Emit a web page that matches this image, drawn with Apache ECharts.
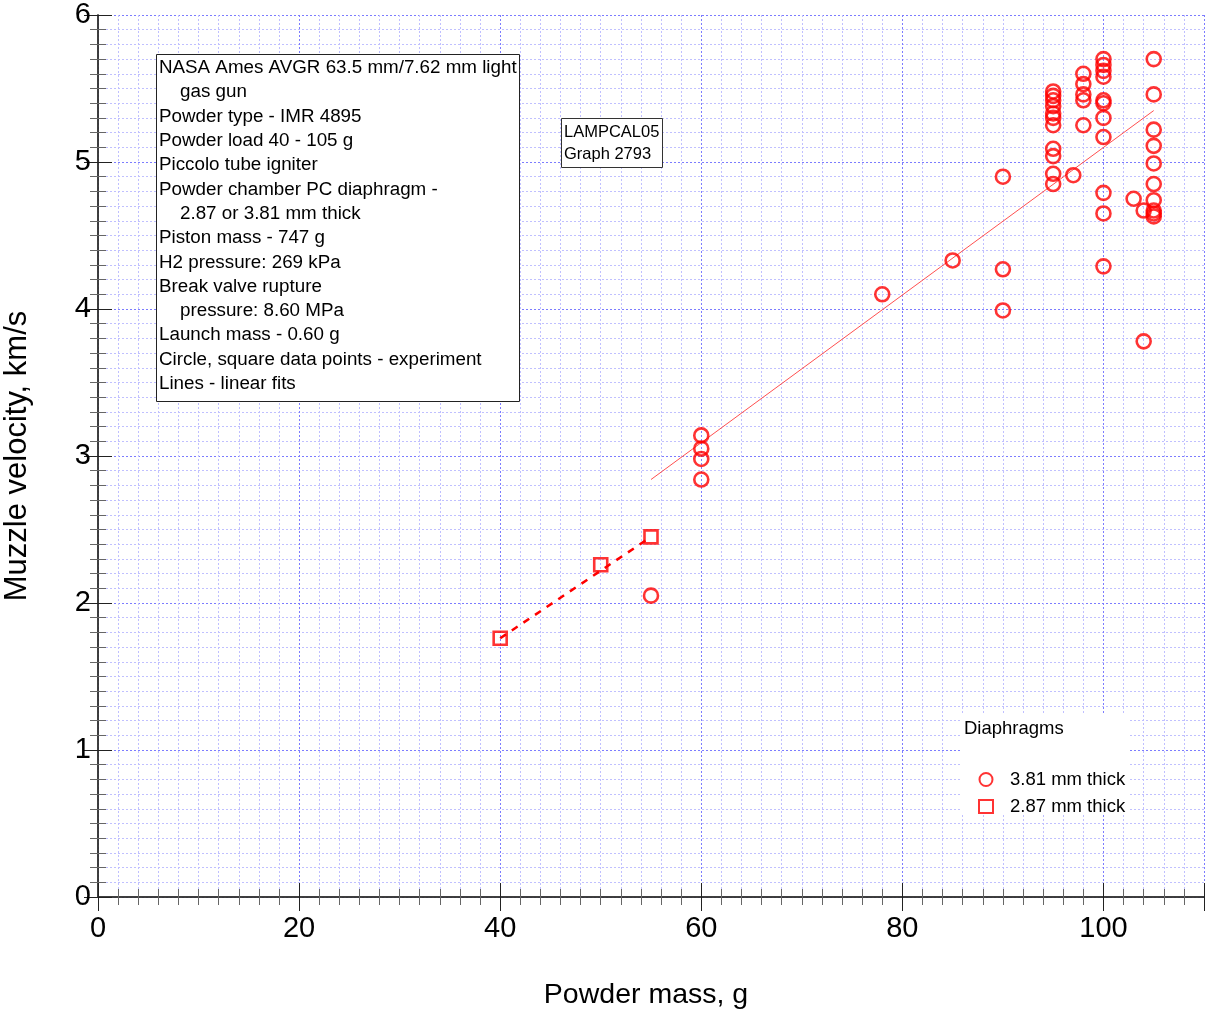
<!DOCTYPE html>
<html><head><meta charset="utf-8">
<script src="https://cdn.jsdelivr.net/npm/echarts@6/dist/echarts.min.js"></script>
<style>html,body{margin:0;padding:0;background:#fff}#c{width:1205px;height:1010px}</style>
</head><body><div id="c"></div>
<script>
// 3.81 mm diaphragm (circles)
const circleX = [55, 60, 60, 60, 60, 78, 85, 90, 90, 90,
  95, 95, 95, 95, 95, 95, 95, 95, 95, 95, 95,
  97, 98, 98, 98, 98, 98,
  100, 100, 100, 100, 100, 100, 100, 100, 100, 100, 100,
  103, 104, 104,
  105, 105, 105, 105, 105, 105, 105, 105, 105, 105];
const circleY = [2.05, 3.14, 3.05, 2.98, 2.84, 4.10, 4.33, 4.90, 4.27, 3.99,
  5.48, 5.45, 5.42, 5.38, 5.33, 5.30, 5.25, 5.09, 5.04, 4.92, 4.85,
  4.91, 5.60, 5.53, 5.46, 5.42, 5.25,
  5.70, 5.66, 5.62, 5.58, 5.42, 5.40, 5.30, 5.17, 4.79, 4.65, 4.29,
  4.75, 4.67, 3.78,
  5.70, 5.46, 5.22, 5.11, 4.99, 4.85, 4.74, 4.67, 4.65, 4.63];
// 2.87 mm diaphragm (squares)
const squareX = [40, 50, 55];
const squareY = [1.76, 2.26, 2.45];
// linear fits
const fitCircleX = [55, 105];
const fitCircleY = [2.84, 5.35];
const fitSquareX = [40, 55];
const fitSquareY = [1.76, 2.45];
const seriesNames = ['3.81 mm thick', '2.87 mm thick'];
const legendTitle = 'Diaphragms';
const xTitle = 'Powder mass, g';
const yTitle = 'Muzzle velocity, km/s';
const infoLines = [
  ['NASA Ames AVGR 63.5 mm/7.62 mm light', 0],
  ['gas gun', 1],
  ['Powder type - IMR 4895', 0],
  ['Powder load 40 - 105 g', 0],
  ['Piccolo tube igniter', 0],
  ['Powder chamber PC diaphragm -', 0],
  ['2.87 or 3.81 mm thick', 1],
  ['Piston mass - 747 g', 0],
  ['H2 pressure: 269 kPa', 0],
  ['Break valve rupture', 0],
  ['pressure: 8.60 MPa', 1],
  ['Launch mass - 0.60 g', 0],
  ['Circle, square data points - experiment', 0],
  ['Lines - linear fits', 0]
];
const graphLabel = ['LAMPCAL05', 'Graph 2793'];

const zip = (a, b) => a.map((v, i) => [v, b[i]]);
const FONT = '"Liberation Sans", Arial, sans-serif';
const RED = '#ff0000';

const chart = echarts.init(document.getElementById('c'));

const infoGraphics = [{
  type: 'rect', shape: {x: 156.5, y: 54.5, width: 363, height: 347},
  style: {fill: '#fff', stroke: '#222', lineWidth: 1}, z: 10
}];
infoLines.forEach((l, i) => {
  infoGraphics.push({
    type: 'text', x: 159 + l[1] * 21, y: 68 + i * 24.3, z: 11,
    style: {text: l[0], font: '18.8px ' + FONT, fill: '#000', textVerticalAlign: 'middle'}
  });
});

const boxGraphics = [
  {type: 'rect', shape: {x: 561.5, y: 118.5, width: 101, height: 49},
   style: {fill: '#fff', stroke: '#333', lineWidth: 1}, z: 10},
  {type: 'text', x: 564, y: 132, z: 11, style: {text: graphLabel[0], font: '16.5px ' + FONT, fill: '#000', textVerticalAlign: 'middle'}},
  {type: 'text', x: 564, y: 154, z: 11, style: {text: graphLabel[1], font: '16.5px ' + FONT, fill: '#000', textVerticalAlign: 'middle'}},
  {type: 'rect', shape: {x: 960, y: 715, width: 170, height: 100}, style: {fill: '#fff'}, z: 5},
  {type: 'text', x: 964, y: 729, z: 11, style: {text: legendTitle, font: '18.5px ' + FONT, fill: '#000', textVerticalAlign: 'middle'}}
];

const axisCommon = {
  type: 'value', min: 0,
  axisLine: {show: true, lineStyle: {color: '#333', width: 1.5}},
  axisTick: {show: true, inside: true, length: 14, lineStyle: {color: '#222'}},
  minorTick: {show: true, splitNumber: 10, length: 8, lineStyle: {color: '#666'}},
  splitLine: {show: true, lineStyle: {color: '#7c7cff', type: [2, 2], width: 1}},
  minorSplitLine: {show: true, lineStyle: {color: '#c0c0ff', type: [2, 2], width: 1}}
};

chart.setOption({
  animation: false,
  backgroundColor: '#fff',
  grid: {left: 98, right: 1, top: 15, bottom: 113, containLabel: false, outerBoundsMode: 'none'},
  xAxis: [
    Object.assign({}, axisCommon, {
      max: 110, interval: 20, position: 'bottom',
      axisLabel: {fontSize: 29, fontFamily: FONT, color: '#000', margin: 17, showMaxLabel: false},
      name: xTitle, nameLocation: 'middle', nameGap: 84,
      nameTextStyle: {fontSize: 28.5, fontFamily: FONT, color: '#000', padding: [0, 10, 0, 0]}
    }),
    Object.assign({}, axisCommon, {
      max: 110, interval: 20, position: 'top',
      axisLabel: {show: false}, splitLine: {show: false}, minorSplitLine: {show: false}
    })
  ],
  yAxis: [
    Object.assign({}, axisCommon, {
      max: 6, interval: 1, position: 'left',
      axisLabel: {fontSize: 29, fontFamily: FONT, color: '#000', margin: 7},
      name: yTitle, nameLocation: 'middle', nameGap: 65,
      nameTextStyle: {fontSize: 31, fontFamily: FONT, color: '#000'}
    }),
    Object.assign({}, axisCommon, {
      max: 6, interval: 1, position: 'right',
      axisLabel: {show: false}, splitLine: {show: false}, minorSplitLine: {show: false}
    })
  ],
  legend: {
    data: seriesNames, orient: 'vertical', left: 978, top: 770, itemGap: 8, padding: 0,
    itemWidth: 14, itemHeight: 13,
    textStyle: {fontSize: 18.5, fontFamily: FONT, color: '#000', padding: [0, 0, 0, 12]}, z: 12
  },
  graphic: infoGraphics.concat(boxGraphics),
  series: [
    {name: 'fit381', type: 'line', data: zip(fitCircleX, fitCircleY), symbol: 'none',
     lineStyle: {color: '#ff5050', width: 1}, z: 3, silent: true},
    {name: 'fit287', type: 'line', data: zip(fitSquareX, fitSquareY), symbol: 'none',
     lineStyle: {color: RED, width: 2.5, type: [7, 7]}, z: 3, silent: true},
    {name: seriesNames[0], type: 'scatter', data: zip(circleX, circleY),
     symbol: 'circle', symbolSize: 14,
     itemStyle: {color: 'rgba(0,0,0,0)', borderColor: RED, borderWidth: 2.6}, z: 4},
    {name: seriesNames[1], type: 'scatter', data: zip(squareX, squareY),
     symbol: 'rect', symbolSize: 13,
     itemStyle: {color: 'rgba(0,0,0,0)', borderColor: RED, borderWidth: 2.6}, z: 4}
  ]
});
</script></body></html>
